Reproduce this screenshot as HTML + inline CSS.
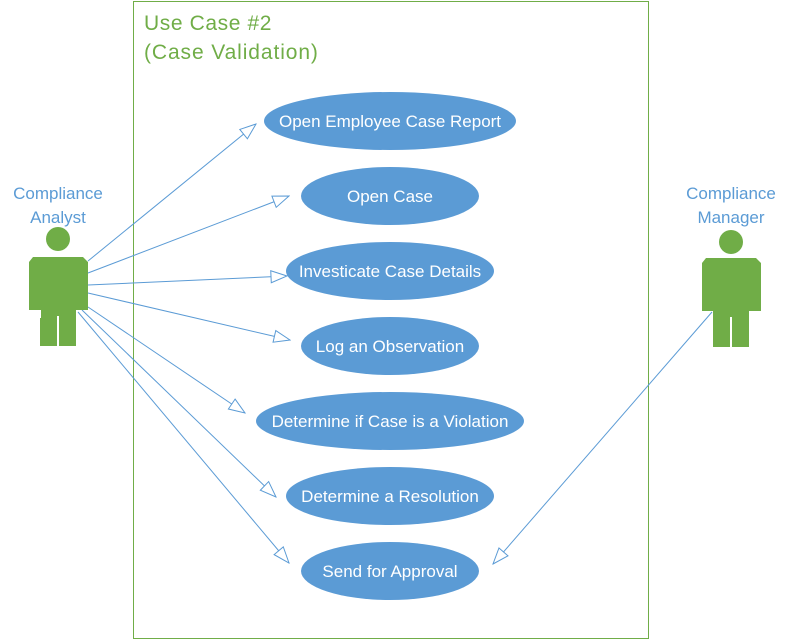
<!DOCTYPE html>
<html><head><meta charset="utf-8"><style>
html,body{margin:0;padding:0;background:#fff;}
svg{display:block;}
text{font-family:"Liberation Sans",sans-serif;}
</style></head><body>
<svg width="795" height="640" viewBox="0 0 795 640" xmlns="http://www.w3.org/2000/svg">
<defs>
<marker id="a" markerWidth="18" markerHeight="14" refX="17" refY="7" orient="auto" markerUnits="userSpaceOnUse">
<path d="M1,1 L17,7 L1,13 Z" fill="#fff" stroke="#5b9bd5" stroke-width="1"/>
</marker>
</defs>
<rect x="133.5" y="1.5" width="515" height="637" fill="none" stroke="#70ad47" stroke-width="1"/>
<text x="144" y="30" font-size="21" letter-spacing="0.6" fill="#70ad47">Use Case #2</text>
<text x="144" y="59" font-size="21" letter-spacing="0.9" fill="#70ad47">(Case Validation)</text>

<g fill="#5b9bd5">
<ellipse cx="390" cy="121" rx="126" ry="29"/>
<ellipse cx="390" cy="196" rx="89" ry="29"/>
<ellipse cx="390" cy="271" rx="104" ry="29"/>
<ellipse cx="390" cy="346" rx="89" ry="29"/>
<ellipse cx="390" cy="421" rx="134" ry="29"/>
<ellipse cx="390" cy="496" rx="104" ry="29"/>
<ellipse cx="390" cy="571" rx="89" ry="29"/>
</g>
<g fill="#fff" font-size="17" text-anchor="middle">
<text x="390" y="127">Open Employee Case Report</text>
<text x="390" y="202">Open Case</text>
<text x="390" y="277">Investicate Case Details</text>
<text x="390" y="352">Log an Observation</text>
<text x="390" y="427">Determine if Case is a Violation</text>
<text x="390" y="502">Determine a Resolution</text>
<text x="390" y="577">Send for Approval</text>
</g>

<g stroke="#5b9bd5" stroke-width="1" fill="none" marker-end="url(#a)">
<line x1="88" y1="261" x2="256" y2="124"/>
<line x1="88" y1="273" x2="289" y2="196"/>
<line x1="88" y1="285" x2="287" y2="276"/>
<line x1="88" y1="293" x2="290" y2="340"/>
<line x1="88" y1="307" x2="245" y2="413"/>
<line x1="82" y1="310" x2="276" y2="497"/>
<line x1="78" y1="312" x2="289" y2="563"/>
<line x1="712" y1="312" x2="493" y2="564"/>
</g>

<g fill="#5b9bd5" font-size="17" text-anchor="middle">
<text x="58" y="199">Compliance</text>
<text x="58" y="223">Analyst</text>
<text x="731" y="199">Compliance</text>
<text x="731" y="223">Manager</text>
</g>

<g fill="#70ad47">
<circle cx="58" cy="239" r="12"/>
<path d="M33,257 L83,257 L88,262 L88,310 L76,310 L76,346 L59,346 L59,316 L57,316 L57,346 L40,346 L40,310 L29,310 L29,262 Z"/>
<circle cx="731" cy="242" r="12"/>
<path d="M706,258 L756,258 L761,263 L761,311 L749,311 L749,347 L732,347 L732,317 L730,317 L730,347 L713,347 L713,311 L702,311 L702,263 Z"/>
</g>
<g stroke="#fff" stroke-width="1">
<line x1="40.5" y1="318" x2="40.5" y2="310"/>
<line x1="76.5" y1="318" x2="76.5" y2="310"/>
</g>
</svg>
</body></html>
